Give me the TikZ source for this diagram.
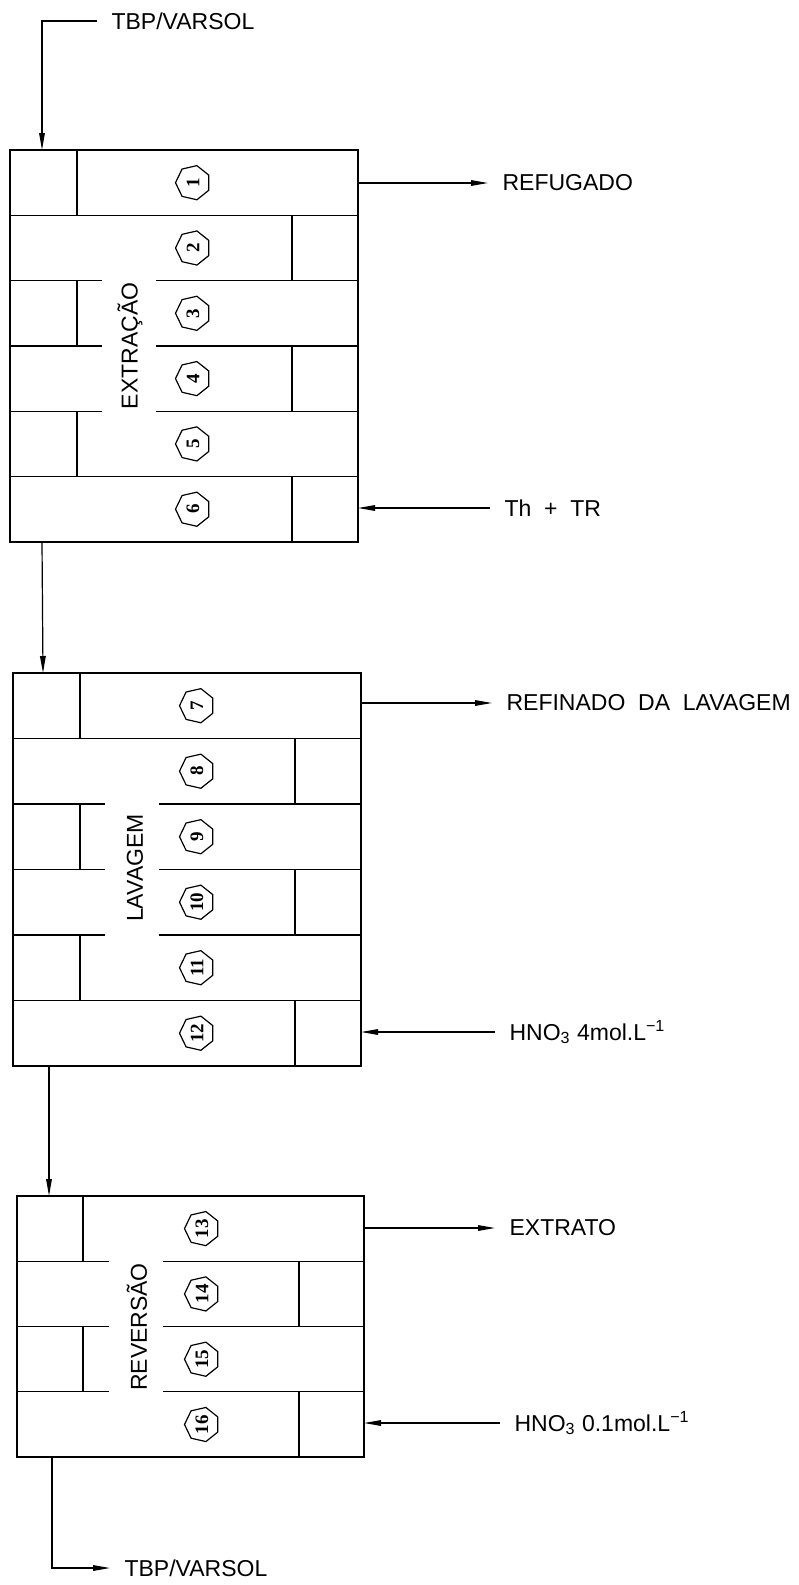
\documentclass[tikz,border=0pt]{standalone}
\usepackage{fontspec}
\setmainfont{Liberation Sans}
\newfontfamily\numfont{Liberation Serif}
\usetikzlibrary{calc,positioning,arrows.meta,shapes.geometric}

\begin{document}
\begin{tikzpicture}[x=0.5pt,y=-0.5pt,>={Triangle[length=8.5pt,width=2.8pt]},line width=0.6pt,
  every node/.style={font=\fontsize{11.5}{13}\selectfont},
  num/.style={draw,regular polygon,regular polygon sides=7,minimum size=17.5pt,inner sep=0pt,rotate=90,font=\numfont\bfseries\fontsize{9.5}{9.5}\selectfont},
  stagelabel/.style={rotate=90,inner sep=0pt},
  flowlabel/.style={anchor=west,inner xsep=7pt,inner ysep=0pt}]
\useasboundingbox (0,0) rectangle (798,1585);

% extracao
\draw (10,150) rectangle (358,542);
\foreach \y in {215.3,476.7} \draw (10,\y) -- (358,\y);
\foreach \y in {280.7,346,411.3} {\draw (10,\y) -- (102,\y); \draw (156,\y) -- (358,\y);}
\foreach \y in {150,280.7,411.3} \draw (77,\y) -- ++(0,65.3);
\foreach \y in {215.3,346,476.7} \draw (292,\y) -- ++(0,65.3);
\foreach \n [count=\i from 0] in {1,...,6} \node[num] (c\n) at (193,182.7+65.3*\i) {\n};
\node[stagelabel] (extr) at (130,346) {EXTRAÇÃO};

% lavagem
\draw (13,673) rectangle (361,1066);
\foreach \y in {738.5,1000.5} \draw (13,\y) -- (361,\y);
\foreach \y in {804,869.5,935} {\draw (13,\y) -- (105,\y); \draw (159,\y) -- (361,\y);}
\foreach \y in {673,804,935} \draw (80,\y) -- ++(0,65.5);
\foreach \y in {738.5,869.5,1000.5} \draw (295,\y) -- ++(0,65.5);
\foreach \n [count=\i from 0] in {7,...,12} \node[num] (c\n) at (197,705.7+65.5*\i) {\n};
\node[stagelabel] (lav) at (135,868) {LAVAGEM};

% reversao
\draw (17,1196) rectangle (364,1457);
\foreach \y in {1261.3,1326.5,1391.8} {\draw (17,\y) -- (109,\y); \draw (163,\y) -- (364,\y);}
\foreach \y in {1196,1326.5} \draw (83,\y) -- ++(0,65.3);
\foreach \y in {1261.3,1391.8} \draw (299,\y) -- ++(0,65.3);
\foreach \n [count=\i from 0] in {13,...,16} \node[num] (c\n) at (202,1228.6+65.3*\i) {\n};
\node[stagelabel] (rev) at (137,1327) {REVERSÃO};

% entradas e saidas
\coordinate (in1) at (42,150);
\coordinate (out1) at (358,183);
\coordinate (feed1) at (358,508);
\coordinate (bot1) at (42,542);
\coordinate (in2) at (43,673);
\coordinate (out2) at (361,703);
\coordinate (feed2) at (361,1032);
\coordinate (bot2) at (49,1066);
\coordinate (in3) at (49,1196);
\coordinate (out3) at (364,1228);
\coordinate (feed3) at (364,1423);
\coordinate (bot3) at (52,1457);

\node[flowlabel] (solv) at (97,21) {TBP/VARSOL};
\node[flowlabel] (refug) at (488,183) {REFUGADO};
\node[flowlabel] (thtr) at (490,508) {Th ~+~ TR};
\node[flowlabel] (refin) at (492,703) {REFINADO~ DA~ LAVAGEM};
\node[flowlabel] (hno4) at (495,1032) {HNO\textsubscript{3} 4mol.L\textsuperscript{−1}};
\node[flowlabel] (extrato) at (495,1228) {EXTRATO};
\node[flowlabel] (hno01) at (500,1423) {HNO\textsubscript{3} 0.1mol.L\textsuperscript{−1}};
\node[flowlabel] (solvout) at (110,1568) {TBP/VARSOL};

\draw[->] (solv.west) -| (in1);
\draw[->] (out1) -- (refug.west);
\draw[->] (thtr.west) -- (feed1);
\draw[->] (bot1) -- (in2);
\draw[->] (out2) -- (refin.west);
\draw[->] (hno4.west) -- (feed2);
\draw[->] (bot2) -- (in3);
\draw[->] (out3) -- (extrato.west);
\draw[->] (hno01.west) -- (feed3);
\draw[->] (bot3) |- (solvout.west);
\end{tikzpicture}
\end{document}
